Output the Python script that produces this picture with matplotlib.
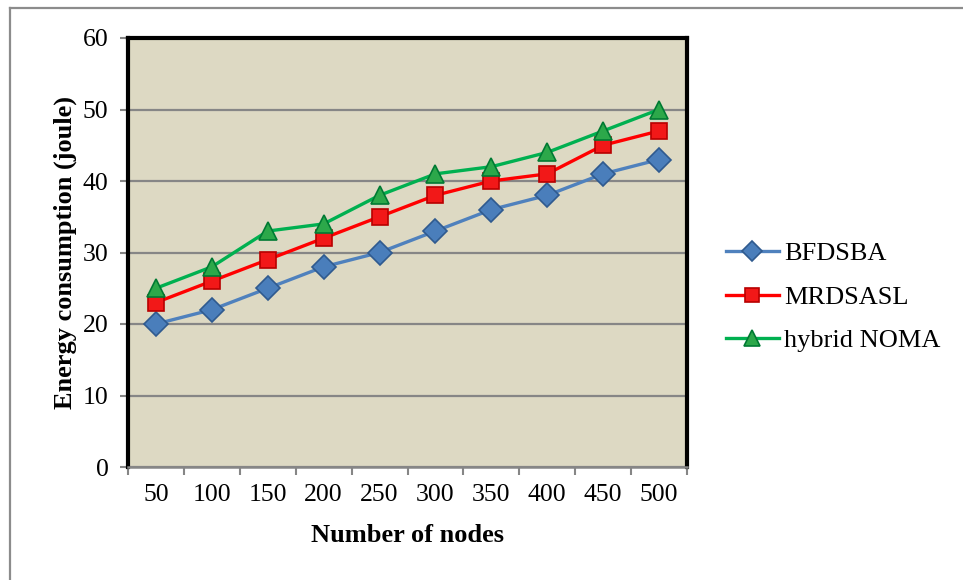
import matplotlib
matplotlib.use("Agg")
from matplotlib import pyplot as plt
from matplotlib.lines import Line2D
import numpy as np

# data: energy consumption vs number of nodes
nodes = [50, 100, 150, 200, 250, 300, 350, 400, 450, 500]
bfdsba = [20, 22, 25, 28, 30, 33, 36, 38, 41, 43]
mrdsasl = [23, 26, 29, 32, 35, 38, 40, 41, 45, 47]
hybrid_noma = [25, 28, 33, 34, 38, 41, 42, 44, 47, 50]

plt.rcParams['font.family'] = ['Liberation Serif', 'DejaVu Serif']
plt.rcParams['font.size'] = 18.5

W, H = 963, 580
fig = plt.figure(figsize=(W / 100, H / 100), dpi=100, facecolor='white')

# outer chart border (left and top edges only show)
fig.add_artist(Line2D([9.5 / W, 9.5 / W], [0, 1 - 8 / H], transform=fig.transFigure,
                      color='#8c8c8c', lw=1.6))
fig.add_artist(Line2D([9.5 / W, 1], [1 - 8 / H, 1 - 8 / H], transform=fig.transFigure,
                      color='#8c8c8c', lw=1.6))

ax = fig.add_axes([128 / W, 1 - 467 / H, (687 - 128) / W, (467 - 38) / H])
ax.set_facecolor('#ddd9c3')

x = np.arange(len(nodes))
ax.set_xlim(-0.5, len(nodes) - 0.5)
ax.set_ylim(0, 60)
ax.set_yticks(range(0, 61, 10))
ax.yaxis.grid(True, color='#868686', lw=1.6)
ax.set_axisbelow(True)

ax.set_xticks(x)
ax.set_xticklabels([str(n) for n in nodes])
ax.set_xticks(np.arange(-0.5, len(nodes)), minor=True)
ax.tick_params(axis='x', which='major', length=0, pad=12)
ax.tick_params(axis='x', which='minor', length=6, width=1.5, color='#868686', direction='out')
ax.tick_params(axis='y', length=6, width=1.5, color='#868686', pad=8)

for side in ['top', 'right', 'left']:
    ax.spines[side].set_color('black')
    ax.spines[side].set_linewidth(3)
ax.spines['bottom'].set_color('#868686')
ax.spines['bottom'].set_linewidth(1.8)

ax.plot(x, bfdsba, color='#4f81bd', lw=2.4, marker='D', ms=12,
        mfc='#4a7ebb', mec='#2f5a8f', mew=1.2, label='BFDSBA', zorder=3)
ax.plot(x, mrdsasl, color='#ff0000', lw=2.4, marker='s', ms=11.5,
        mfc='#f21818', mec='#b80000', mew=1.2, label='MRDSASL', zorder=4)
ax.plot(x, hybrid_noma, color='#00b050', lw=2.4, marker='^', ms=13,
        mfc='#2ca84a', mec='#007a33', mew=1.2, label='hybrid NOMA', zorder=5)

ax.set_xlabel('Number of nodes', fontweight='bold', fontsize=19, labelpad=13)
ax.set_ylabel('Energy consumption (joule)', fontweight='bold', fontsize=19, labelpad=4)

fig.legend(loc='center left', bbox_to_anchor=(702 / W, 1 - 297 / H), frameon=False,
           handlelength=2.0, handletextpad=0.2, labelspacing=0.75, fontsize=19,
           markerscale=0.85)

fig.savefig('out.png', dpi=100, facecolor='white')
